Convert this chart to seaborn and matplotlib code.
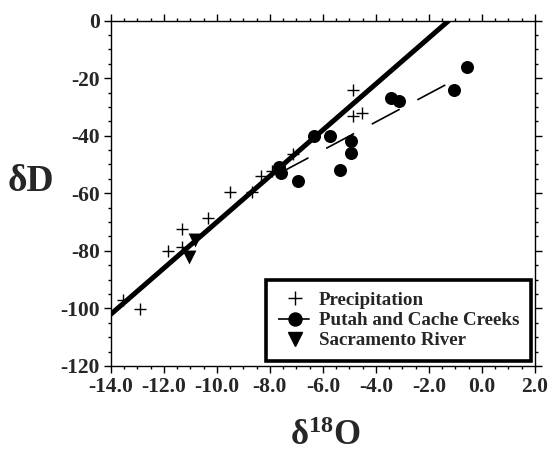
import pandas as pd
import matplotlib
matplotlib.use('Agg')
import matplotlib.pyplot as plt
from matplotlib.lines import Line2D
from matplotlib.ticker import MultipleLocator, FormatStrFormatter
import seaborn as sns

# precipitation samples
precip_o18 = [-13.54, -12.92, -11.83, -11.32, -11.32, -10.32, -9.51,
              -8.69, -8.32, -7.94, -7.13, -4.85, -4.85, -4.52]
precip_dD = [-97.0, -100.2, -79.9, -72.4, -78.5, -68.6, -59.7,
             -59.4, -53.9, -52.4, -46.3, -24.1, -33.1, -32.2]

# Putah and Cache Creeks
creek_o18 = [-7.65, -7.6, -6.94, -6.35, -5.72, -5.35, -4.93, -4.93,
             -3.43, -3.14, -1.05, -0.55]
creek_dD = [-51.0, -53.0, -55.9, -40.0, -40.0, -51.8, -42.0, -46.0,
            -26.9, -28.1, -24.1, -16.2]

# Sacramento River
river_o18 = [-10.82, -11.04]
river_dD = [-76.1, -82.2]

# global meteoric water line: dD = 8 * d18O + 10
gmwl_slope, gmwl_icpt = 8.0, 10.0
gmwl_range = [-14.0, -1.25]
# trend of the creek samples
creek_slope, creek_icpt = 4.9, -15.6
creek_range = [-7.6, -1.2]

labels = ['Precipitation', 'Putah and Cache Creeks', 'Sacramento River']

sns.set_style('ticks')
plt.rcParams['font.family'] = ['Liberation Serif', 'DejaVu Serif']
plt.rcParams['font.weight'] = 'bold'
plt.rcParams['axes.labelweight'] = 'bold'
plt.rcParams['axes.unicode_minus'] = False
plt.rcParams['mathtext.fontset'] = 'custom'
plt.rcParams['mathtext.rm'] = 'Liberation Serif:bold'
plt.rcParams['mathtext.it'] = 'Liberation Serif:bold'
plt.rcParams['mathtext.bf'] = 'Liberation Serif:bold'

gmwl = pd.DataFrame({'x': gmwl_range})
gmwl['y'] = gmwl_slope * gmwl['x'] + gmwl_icpt
trend = pd.DataFrame({'x': creek_range})
trend['y'] = creek_slope * trend['x'] + creek_icpt

fig, ax = plt.subplots(figsize=(5.52, 4.58), dpi=100)
fig.subplots_adjust(left=0.201, right=0.969, top=0.955, bottom=0.201)

sns.lineplot(data=gmwl, x='x', y='y', color='black', lw=3.6, ax=ax,
             estimator=None, zorder=2)
sns.lineplot(data=trend, x='x', y='y', color='black', lw=1.2, ax=ax,
             estimator=None, zorder=2)
ax.lines[-1].set_dashes((19, 12))

sns.scatterplot(x=precip_o18, y=precip_dD, marker='+', color='black',
                s=80, linewidth=1.0, ax=ax, zorder=3)
sns.scatterplot(x=creek_o18, y=creek_dD, marker='o', color='black',
                s=88, edgecolor='black', linewidth=0, ax=ax, zorder=3)
sns.scatterplot(x=river_o18, y=river_dD, marker='v', color='black',
                s=100, edgecolor='black', linewidth=0, ax=ax, zorder=3)

ax.set_xlim(-14, 2)
ax.set_ylim(-120, 0)
ax.xaxis.set_major_locator(MultipleLocator(2))
ax.xaxis.set_minor_locator(MultipleLocator(0.5))
ax.yaxis.set_major_locator(MultipleLocator(20))
ax.yaxis.set_minor_locator(MultipleLocator(5))
ax.xaxis.set_major_formatter(FormatStrFormatter('%.1f'))
ax.yaxis.set_major_formatter(FormatStrFormatter('%d'))

for s in ax.spines.values():
    s.set_visible(True)
    s.set_linewidth(1.0)
    s.set_color('black')
ax.tick_params(which='both', direction='out', top=True, right=True,
               color='black', width=1.0)
ax.tick_params(which='major', length=5, labelsize=15.5, pad=3)
ax.tick_params(which='minor', length=2.5)

ax.set_xlabel('δ$^{18}$O', fontsize=25, fontweight='bold', va='center')
ax.xaxis.set_label_coords(0.505, -0.205)
ax.set_ylabel('δD', fontsize=27, fontweight='bold', rotation=0,
              ha='center', va='center')
ax.yaxis.set_label_coords(-0.189, 0.533)

handles = [
    Line2D([], [], color='black', marker='+', ls='none', ms=10, mew=1.0),
    Line2D([], [], color='black', marker='o', ls=(0, (19, 12)), lw=1.2, ms=9.4),
    Line2D([], [], color='black', marker='v', ls='none', ms=10),
]
leg = ax.legend(handles, labels, loc='lower right',
                bbox_to_anchor=(0.99, 0.015),
                prop={'family': 'Liberation Serif', 'weight': 'bold', 'size': 13.7},
                frameon=True, fancybox=False, framealpha=1, edgecolor='black',
                borderpad=0.6, labelspacing=0.15, handlelength=1.8,
                handletextpad=0.35, borderaxespad=0)
leg.get_frame().set_linewidth(2.6)

fig.savefig('out.png', dpi=100)
